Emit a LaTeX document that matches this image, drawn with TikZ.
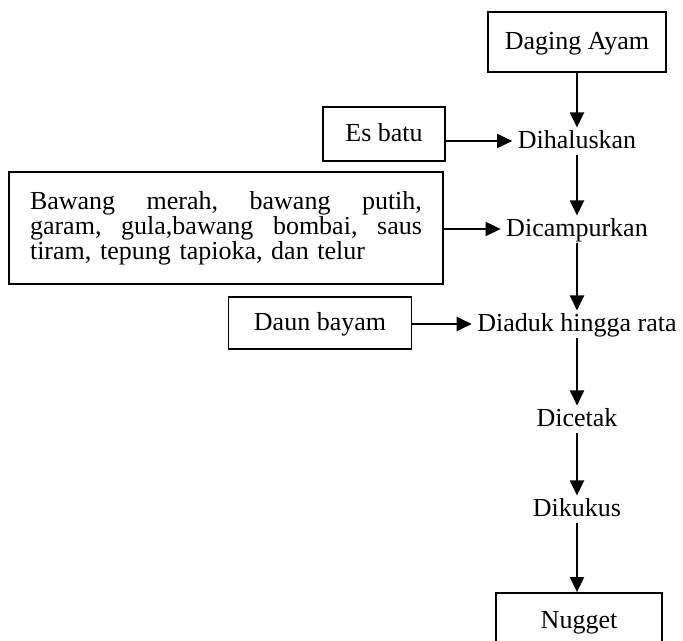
\documentclass[tikz,border=0pt]{standalone}
\usepackage{fontspec}
\setmainfont{Liberation Serif}
\usepackage{tikz}
\usetikzlibrary{calc}
\usetikzlibrary{arrows.meta}

\tikzset{
  kotak/.style={draw,line width=1pt,inner sep=0pt},
  langkah/.style={inner sep=3pt,text height=0.85em,text depth=0.05em},
  panah/.style={line width=1.1pt,-{Triangle[length=0.3cm,width=0.28cm]}}
}

\newcommand\barisrata[1]{\leavevmode\hbox to 7.84cm{#1}}

\begin{document}
\begin{tikzpicture}[x=0.02cm,y=-0.02cm,every node/.style={font=\fontsize{14.8}{14.2}\selectfont}]

\def \Lajur {577};

\useasboundingbox (0,0) rectangle (683,641);

\node [kotak,langkah,minimum width=3.56cm,minimum height=1.2cm] (daging) at (\Lajur,42) {Daging Ayam};
\node [langkah] (halus) at (\Lajur,141) {Dihaluskan};
\node [kotak,langkah,minimum width=2.44cm,minimum height=1.08cm] (esbatu) at (384,134) {Es batu};

\node [langkah] (campur) at (\Lajur,229) {Dicampurkan};
\node [kotak,text width=7.84cm,inner xsep=0.42cm,inner ysep=0pt,minimum height=2.24cm,align=left] (bumbu) at (226,228)
  {\barisrata{Bawang\hfill merah,\hfill bawang\hfill putih,}\\
   \barisrata{garam,\hfill gula,bawang\hfill bombai,\hfill saus}\\
   tiram, tepung tapioka, dan telur};

\node [langkah] (aduk) at (\Lajur,324) {Diaduk hingga rata};
\node [kotak,langkah,minimum width=3.66cm,minimum height=1.04cm] (bayam) at (320,323) {Daun bayam};

\node [langkah] (cetak) at (\Lajur,419) {Dicetak};
\node [langkah] (kukus) at (\Lajur,509) {Dikukus};
\node [kotak,langkah,minimum width=3.32cm,minimum height=1.12cm] (nugget) at (579,621) {Nugget};

\draw [panah] (daging) -- (halus);
\draw [panah] (halus) -- (campur);
\draw [panah] (campur) -- (aduk);
\draw [panah] (aduk) -- (cetak);
\draw [panah] (cetak) -- (kukus);
\draw [panah] (kukus) -- (nugget.north -| kukus);

\draw [panah] (esbatu.east |- halus) -- (halus.west);
\draw [panah] (bumbu.east |- campur) -- (campur.west);
\draw [panah] (bayam.east |- aduk) -- (aduk.west);

\end{tikzpicture}
\end{document}
